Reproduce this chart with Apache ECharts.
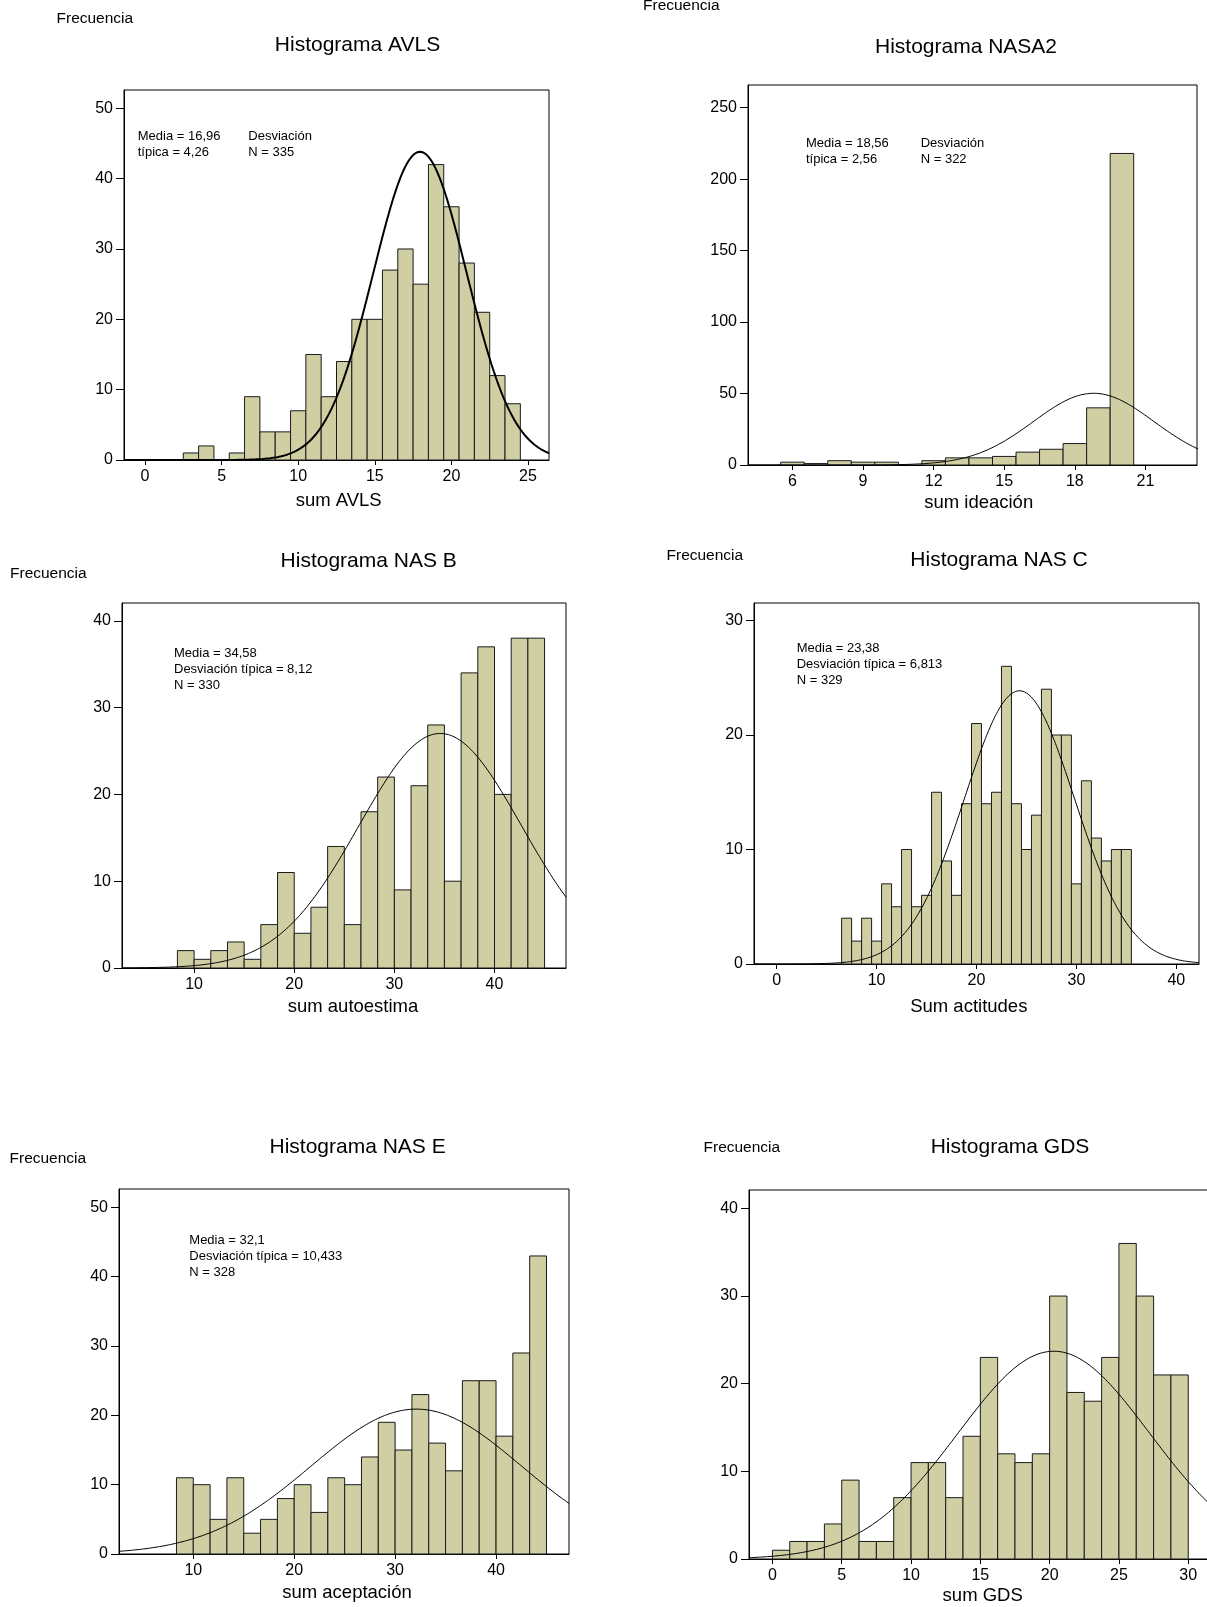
<!DOCTYPE html>
<html><head><meta charset="utf-8">
<script src="https://cdn.jsdelivr.net/npm/echarts@6/dist/echarts.min.js"></script>
<style>html,body{margin:0;padding:0;background:#fff}#c{width:1207px;height:1607px}</style>
</head><body><div id="c"></div>
<script>
// ---------------- DATA ----------------
// Histograma AVLS (bins of width 1, first bin starts at 2.5)
const avlsFirstEdge = 2.5, avlsBinWidth = 1;
const avlsCounts = [1,2,0,1,9,4,4,7,15,9,14,20,20,27,30,25,42,36,28,21,12,8];
const avlsXTicks = [0,5,10,15,20,25];
const avlsYTicks = [0,10,20,30,40,50];
const avlsCurve = [17.95, 3.05, 335]; // mean, sd, N*binWidth (fitted normal as drawn)
const avlsStats = [['Media = 16,96','típica = 4,26'],['Desviación','N = 335']];

// Histograma NASA2
const nasa2FirstEdge = 5.5, nasa2BinWidth = 1;
const nasa2Counts = [2,1,3,2,2,0,3,5,5,6,9,11,15,40,218];
const nasa2XTicks = [6,9,12,15,18,21];
const nasa2YTicks = [0,50,100,150,200,250];
const nasa2Curve = [18.8, 2.56, 322];
const nasa2Stats = [['Media = 18,56','típica = 2,56'],['Desviación','N = 322']];

// Histograma NAS B
const nasBFirstEdge = 25/3, nasBBinWidth = 5/3;
const nasBCounts = [2,1,2,3,1,5,11,4,7,14,5,18,22,9,21,28,10,34,37,20,38,38];
const nasBXTicks = [10,20,30,40];
const nasBYTicks = [0,10,20,30,40];
const nasBCurve = [34.58, 8.12, 330*5/3];
const nasBStats = ['Media = 34,58','Desviación típica = 8,12','N = 330'];

// Histograma NAS C
const nasCFirstEdge = 6.5, nasCBinWidth = 1;
const nasCCounts = [4,2,4,2,7,5,10,5,6,15,9,6,14,21,14,15,26,14,10,13,24,20,20,7,16,11,9,10,10];
const nasCXTicks = [0,10,20,30,40];
const nasCYTicks = [0,10,20,30];
const nasCCurve = [24.3, 5.5, 329];
const nasCStats = ['Media = 23,38','Desviación típica = 6,813','N = 329'];

// Histograma NAS E
const nasEFirstEdge = 25/3, nasEBinWidth = 5/3;
const nasECounts = [11,10,5,11,3,5,8,10,6,11,10,14,19,15,23,16,12,25,25,17,29,43];
const nasEXTicks = [10,20,30,40];
const nasEYTicks = [0,10,20,30,40,50];
const nasECurve = [32.1, 10.433, 328*5/3];
const nasEStats = ['Media = 32,1','Desviación típica = 10,433','N = 328'];

// Histograma GDS
const gdsFirstEdge = 0, gdsBinWidth = 1.25;
const gdsCounts = [1,2,2,4,9,2,2,7,11,11,7,14,23,12,11,12,30,19,18,23,36,30,21,21];
const gdsXTicks = [0,5,10,15,20,25,30];
const gdsYTicks = [0,10,20,30,40];
const gdsCurve = [20.3, 6.9, 410];

const titles = ['Histograma AVLS','Histograma NASA2','Histograma NAS B','Histograma NAS C','Histograma NAS E','Histograma GDS'];
const xNames = ['sum AVLS','sum ideación','sum autoestima','Sum actitudes','sum aceptación','sum GDS'];
const yName = 'Frecuencia';

// ---------------- LAYOUT ----------------
const FONT = '"Liberation Sans", Arial, Helvetica, sans-serif';
const FILL = '#d0cfa3';
const panels = [
  {first:avlsFirstEdge, bw:avlsBinWidth, counts:avlsCounts, xt:avlsXTicks, yt:avlsYTicks, curve:avlsCurve,
   grid:{left:124,top:90,width:425,height:370}, x:[-1.37,26.37], y:[0,52.6], lw:2, curveMax:26.37,
   title:[357.5,45], freq:[56.5,18.5], xname:[338.7,500.5]},
  {first:nasa2FirstEdge, bw:nasa2BinWidth, counts:nasa2Counts, xt:nasa2XTicks, yt:nasa2YTicks, curve:nasa2Curve,
   grid:{left:748,top:85,width:449,height:380}, x:[4.11,23.19], y:[0,265.9], lw:1, curveMax:23.48, noclip:true,
   title:[966,47], freq:[643,6], xname:[978.7,503.3]},
  {first:nasBFirstEdge, bw:nasBBinWidth, counts:nasBCounts, xt:nasBXTicks, yt:nasBYTicks, curve:nasBCurve,
   grid:{left:122,top:603,width:444,height:365}, x:[2.8,47.14], y:[0,42.05], lw:1, curveMax:47.14,
   title:[368.7,561.7], freq:[10,574], xname:[353,1007.3]},
  {first:nasCFirstEdge, bw:nasCBinWidth, counts:nasCCounts, xt:nasCXTicks, yt:nasCYTicks, curve:nasCCurve,
   grid:{left:754,top:603,width:445,height:361}, x:[-2.27,42.27], y:[0,31.53], lw:1, curveMax:42.27,
   title:[999,560.7], freq:[666.5,556], xname:[968.8,1006.7]},
  {first:nasEFirstEdge, bw:nasEBinWidth, counts:nasECounts, xt:nasEXTicks, yt:nasEYTicks, curve:nasECurve,
   grid:{left:119,top:1189,width:450,height:365}, x:[2.64,47.23], y:[0,52.66], lw:1, curveMax:47.23,
   title:[357.6,1147.6], freq:[9.5,1159], xname:[347,1592.7]},
  {first:gdsFirstEdge, bw:gdsBinWidth, counts:gdsCounts, xt:gdsXTicks, yt:gdsYTicks, curve:gdsCurve,
   grid:{left:749,top:1190,width:466,height:369}, x:[-1.69,31.93], y:[0,42.1], lw:1, curveMax:31.93,
   title:[1010,1147.6], freq:[703.5,1147.6], xname:[982.7,1596]}
];

const grids = [], xAxes = [], yAxes = [], series = [], gfx = [];
panels.forEach((p, i) => {
  grids.push(Object.assign({show:true, borderColor:'#000', borderWidth:1, backgroundColor:'transparent',
    containLabel:false, outerBoundsMode:'none'}, p.grid));
  xAxes.push({type:'value', gridIndex:i, min:p.x[0], max:p.x[1],
    axisLine:{show:true, onZero:false, lineStyle:{color:'#000', width:1}},
    axisTick:{show:true, inside:false, length:5, customValues:p.xt, lineStyle:{color:'#000'}},
    axisLabel:{customValues:p.xt, color:'#000', fontSize:16, fontFamily:FONT, margin:9},
    splitLine:{show:false}});
  yAxes.push({type:'value', gridIndex:i, min:p.y[0], max:p.y[1],
    axisLine:{show:true, onZero:false, lineStyle:{color:'#000', width:1}},
    axisTick:{show:true, inside:false, length:8, customValues:p.yt, lineStyle:{color:'#000'}},
    axisLabel:{customValues:p.yt, color:'#000', fontSize:16, fontFamily:FONT, margin:11},
    splitLine:{show:false}});
  const bars = [];
  p.counts.forEach((c, k) => { if (c > 0) bars.push([p.first + k*p.bw, p.first + (k+1)*p.bw, c]); });
  series.push({type:'custom', xAxisIndex:i, yAxisIndex:i, data:bars, encode:{x:[0,1], y:2}, z:2, silent:true,
    renderItem:(params, api) => {
      const a = api.coord([api.value(0), api.value(2)]);
      const b = api.coord([api.value(1), 0]);
      return {type:'rect', shape:{x:a[0], y:a[1], width:b[0]-a[0], height:b[1]-a[1]},
        style:{fill:FILL, stroke:'#1a1a1a', lineWidth:1}};
    }});
  const [m, s, n] = p.curve;
  const pts = [];
  const x0 = p.x[0], x1 = p.curveMax, steps = 400;
  for (let k = 0; k <= steps; k++) {
    const x = x0 + (x1 - x0) * k / steps;
    pts.push([x, n / (s * Math.sqrt(2*Math.PI)) * Math.exp(-((x-m)*(x-m)) / (2*s*s))]);
  }
  series.push({type:'line', xAxisIndex:i, yAxisIndex:i, data:pts, showSymbol:false, symbol:'none', smooth:false,
    clip:!p.noclip, z:3, silent:true, lineStyle:{color:'#000', width:p.lw}});
  gfx.push({type:'text', x:p.title[0], y:p.title[1], style:{text:titles[i], fill:'#000', font:'21px '+FONT, align:'center', verticalAlign:'middle'}});
  gfx.push({type:'text', x:p.freq[0], y:p.freq[1], style:{text:yName, fill:'#000', font:'15.5px '+FONT, align:'left', verticalAlign:'middle'}});
  gfx.push({type:'text', x:p.xname[0], y:p.xname[1], style:{text:xNames[i], fill:'#000', font:'18.5px '+FONT, align:'center', verticalAlign:'middle'}});
});

function statText(x, y, t) {
  gfx.push({type:'text', x:x, y:y, style:{text:t, fill:'#000', font:'13px '+FONT, align:'left', verticalAlign:'middle'}});
}
// two-column stats (AVLS, NASA2)
[[avlsStats, 137.7, 248.3, 136.7], [nasa2Stats, 806, 920.7, 143.3]].forEach(([st, xa, xb, y]) => {
  st[0].forEach((t, k) => statText(xa, y + 16*k, t));
  st[1].forEach((t, k) => statText(xb, y + 16*k, t));
});
// single-column stats
[[nasBStats, 174, 653.3], [nasCStats, 796.7, 648.7], [nasEStats, 189.3, 1240]].forEach(([st, x, y]) => {
  st.forEach((t, k) => statText(x, y + 16*k, t));
});

const chart = echarts.init(document.getElementById('c'), null, {renderer:'canvas'});
chart.setOption({animation:false, backgroundColor:'#fff', grid:grids, xAxis:xAxes, yAxis:yAxes, series:series, graphic:{elements:gfx}});
</script></body></html>
